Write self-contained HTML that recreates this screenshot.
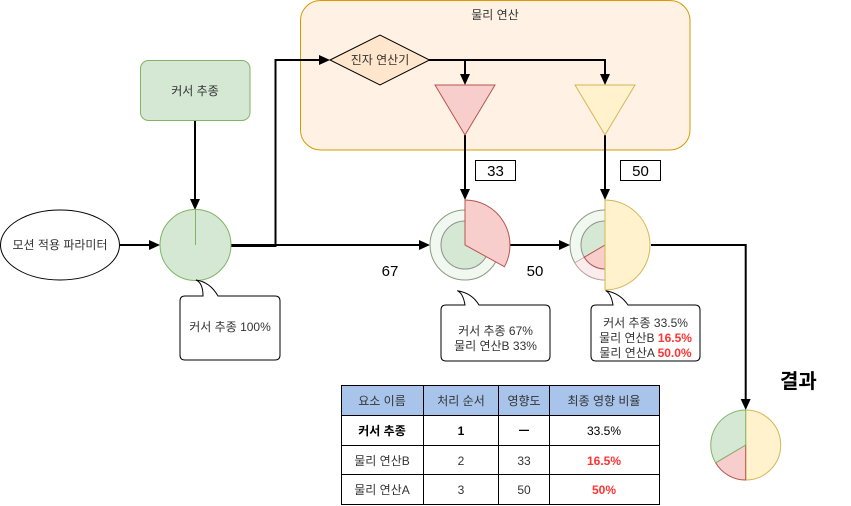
<!DOCTYPE html>
<html><head><meta charset="utf-8"><style>
html,body{margin:0;padding:0;background:#fff;}
svg{display:block;}
text{font-family:"Liberation Sans","Noto Sans CJK KR",sans-serif;}
</style></head><body>
<svg width="851" height="506" viewBox="0 0 851 506" xmlns="http://www.w3.org/2000/svg" fill="#333">
<!-- container -->
<rect x="300.5" y="0.5" width="389.5" height="149.5" rx="20" ry="20" fill="#fff2e5" stroke="#d79b00" stroke-width="1"/>
<text x="495" y="19" font-size="12" text-anchor="middle" fill="#333">물리 연산</text>

<!-- connectors -->
<g stroke="#000" stroke-width="2" fill="none">
<line x1="120" y1="245" x2="150" y2="245"/>
<line x1="195" y1="121" x2="195" y2="200"/>
<polyline points="231,246 275.5,246 275.5,60 320,60"/>
<line x1="231" y1="245" x2="420" y2="245"/>
<polyline points="429,60 465,60 465,75"/>
<polyline points="465,60 605,60 605,75"/>
<line x1="465" y1="135" x2="465" y2="190"/>
<line x1="605" y1="135" x2="605" y2="190"/>
<line x1="510" y1="245" x2="560" y2="245"/>
<polyline points="651,245 745.7,245 745.7,400"/>
</g>
<g fill="#000">
<polygon points="160,245 149,240 149,250"/>
<polygon points="195,210 190,199 200,199"/>
<polygon points="330,60 319,55 319,65"/>
<polygon points="465,85 460,74 470,74"/>
<polygon points="605,85 600,74 610,74"/>
<polygon points="465,200 460,189 470,189"/>
<polygon points="605,200 600,189 610,189"/>
<polygon points="430,245 419,240 419,250"/>
<polygon points="570,245 559,240 559,250"/>
<polygon points="745.7,410 740.7,399 750.7,399"/>
</g>

<!-- ellipse -->
<ellipse cx="60" cy="245" rx="59.5" ry="35" fill="#fff" stroke="#000"/>
<text x="60" y="249" font-size="12" text-anchor="middle" fill="#333">모션 적용 파라미터</text>

<!-- 커서 추종 box -->
<rect x="140.5" y="60.5" width="109.5" height="60" rx="8" fill="#d5e8d4" stroke="#82b366"/>
<text x="195" y="95" font-size="12" text-anchor="middle" fill="#333">커서 추종</text>

<!-- circle 0 -->
<circle cx="195.5" cy="245" r="35.5" fill="#d5e8d4" stroke="#82b366"/>
<line x1="195.5" y1="209.5" x2="195.5" y2="245" stroke="#82b366"/>

<!-- callout 1 -->
<path d="M185,296 L203,296 Q203,283 196,280 Q210,282 218,296 L275,296 Q280,296 280,301 L280,355 Q280,360 275,360 L185,360 Q180,360 180,355 L180,301 Q180,296 185,296 Z" fill="#fff" stroke="#000"/>
<text x="230" y="331" font-size="12" text-anchor="middle" fill="#333">커서 추종 100%</text>

<!-- diamond -->
<polygon points="330,60 380,35 429.5,60 380,85" fill="#ffe6cc" stroke="#000"/>
<text x="380" y="64" font-size="12" text-anchor="middle" fill="#333">진자 연산기</text>

<!-- triangles -->
<polygon points="435,85 495,85 465,135" fill="#f8cecc" stroke="#b85450"/>
<polygon points="575,85 635,85 605,135" fill="#fff2cc" stroke="#d6b656"/>

<!-- number boxes -->
<rect x="475.5" y="160.5" width="40" height="20" fill="#fff" stroke="#000"/>
<text x="495.5" y="176" font-size="15" text-anchor="middle" fill="#000">33</text>
<rect x="620.5" y="160.5" width="40" height="20" fill="#fff" stroke="#000"/>
<text x="640.5" y="176" font-size="15" text-anchor="middle" fill="#000">50</text>

<text x="390" y="276" font-size="15" text-anchor="middle" fill="#000">67</text>
<text x="535" y="276" font-size="15" text-anchor="middle" fill="#000">50</text>

<!-- circle 1 -->
<circle cx="465" cy="245" r="35" fill="#f1f8f0" stroke="#8a9a80"/>
<circle cx="465" cy="245" r="24" fill="#d5e8d4" stroke="#909090"/>
<path d="M465,245 L465,200 A45,45 0 0 1 504.4,266.7 Z" fill="#f8cecc" stroke="#b85450"/>

<!-- circle 2 -->
<circle cx="605" cy="245" r="35" fill="#f1f8f0" stroke="#8a9a80"/>
<path d="M605,280 A35,35 0 0 1 574.9,262.8 L584.3,257.2 A24,24 0 0 0 605,269 Z" fill="#fbeded" stroke="#c9a0a0" stroke-width="0.8"/>
<circle cx="605" cy="245" r="24" fill="#d5e8d4" stroke="#909090"/>
<path d="M605,245 L605,269 A24,24 0 0 1 584.3,257.2 Z" fill="#f8cecc" stroke="#b85450"/>
<path d="M605,245 L605,200 A45,45 0 0 1 605,290 Z" fill="#fff2cc" stroke="#d6b656"/>

<!-- callout 2 -->
<path d="M446,305 L465,305 Q463,293 457.3,290.7 Q472,293 479,305 L545,305 Q550,305 550,310 L550,356 Q550,361 545,361 L446,361 Q441,361 441,356 L441,310 Q441,305 446,305 Z" fill="#fff" stroke="#000"/>
<text x="495.5" y="335" font-size="12" text-anchor="middle" fill="#333">커서 추종 67%</text>
<text x="495.5" y="350" font-size="12" text-anchor="middle" fill="#333">물리 연산B 33%</text>

<!-- callout 3 -->
<path d="M596,305 L613,305 Q611,293 605.7,290.7 Q620,293 628,305 L695,305 Q700,305 700,310 L700,356 Q700,361 695,361 L596,361 Q591,361 591,356 L591,310 Q591,305 596,305 Z" fill="#fff" stroke="#000"/>
<text x="645.5" y="327" font-size="12" text-anchor="middle" fill="#333">커서 추종 33.5%</text>
<text x="645.5" y="342" font-size="12" text-anchor="middle" fill="#333">물리 연산B <tspan fill="#ff3333" font-weight="bold">16.5%</tspan></text>
<text x="645.5" y="357" font-size="12" text-anchor="middle" fill="#333">물리 연산A <tspan fill="#ff3333" font-weight="bold">50.0%</tspan></text>

<!-- result -->
<text x="780" y="388" font-size="20" font-weight="bold" fill="#000">결과</text>
<path d="M745.7,445 L745.7,410 A35,35 0 0 1 745.7,480 Z" fill="#fff2cc" stroke="#d6b656"/>
<path d="M745.7,445 L745.7,480 A35,35 0 0 1 715.6,462.8 Z" fill="#f8cecc" stroke="#b85450"/>
<path d="M745.7,445 L715.6,462.8 A35,35 0 0 1 745.7,410 Z" fill="#d5e8d4" stroke="#82b366"/>

<!-- table -->
<rect x="341" y="386" width="318" height="29" fill="#a9c4eb"/>
<g stroke="#000" stroke-width="1" fill="none">
<rect x="341.5" y="385.5" width="318" height="119"/>
<line x1="341" y1="415.5" x2="660" y2="415.5"/>
<line x1="341" y1="445.5" x2="660" y2="445.5"/>
<line x1="341" y1="474.5" x2="660" y2="474.5"/>
<line x1="423.5" y1="385" x2="423.5" y2="505"/>
<line x1="498.5" y1="385" x2="498.5" y2="505"/>
<line x1="549.5" y1="385" x2="549.5" y2="505"/>
</g>
<g font-size="12" text-anchor="middle" fill="#333">
<text x="382" y="405">요소 이름</text>
<text x="461" y="405">처리 순서</text>
<text x="524" y="405">영향도</text>
<text x="604" y="405">최종 영향 비율</text>
<text x="382" y="435" font-weight="bold" fill="#000">커서 추종</text>
<text x="461" y="435" font-weight="bold" fill="#000">1</text>
<text x="524" y="435" font-weight="bold" fill="#000">ㅡ</text>
<text x="604" y="435" fill="#000">33.5%</text>
<text x="382" y="465">물리 연산B</text>
<text x="461" y="465">2</text>
<text x="524" y="465">33</text>
<text x="604" y="465" font-weight="bold" fill="#ff3333">16.5%</text>
<text x="382" y="494">물리 연산A</text>
<text x="461" y="494">3</text>
<text x="524" y="494">50</text>
<text x="604" y="494" font-weight="bold" fill="#ff3333">50%</text>
</g>
</svg>
</body></html>
